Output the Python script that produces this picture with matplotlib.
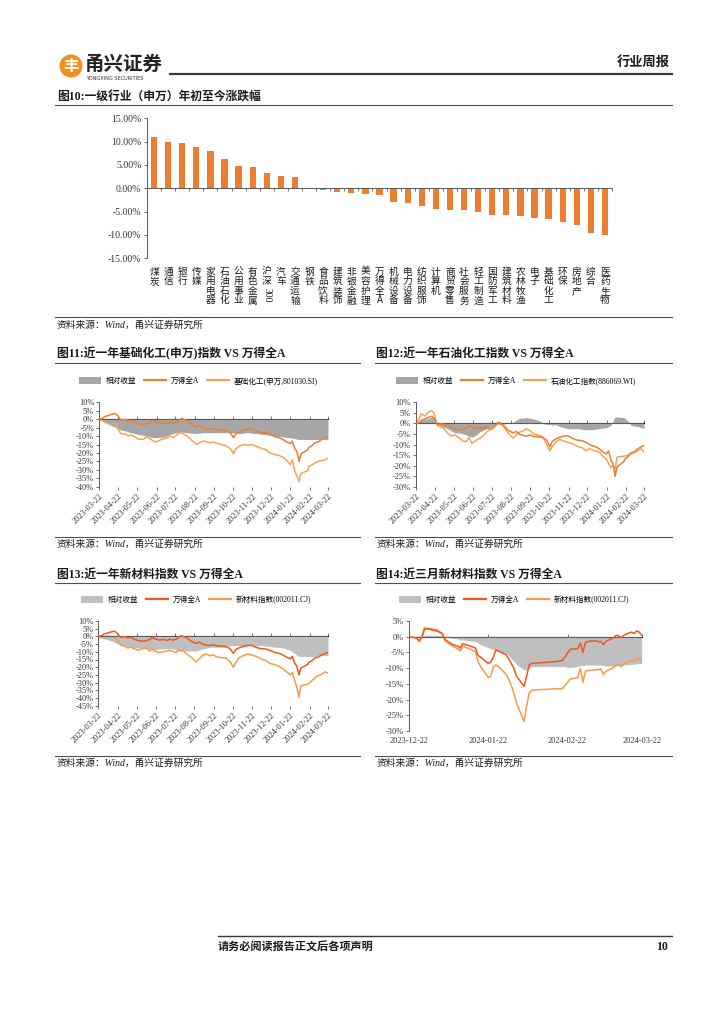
import matplotlib
matplotlib.use('Agg')
import matplotlib.pyplot as plt
import matplotlib.dates as mdates
import matplotlib.transforms as mtransforms
from matplotlib.lines import Line2D
from matplotlib.patches import Patch, Ellipse
import numpy as np
import pandas as pd

# ---------------- DATA ----------------
industries = ['煤炭', '通信', '银行', '传媒', '家用电器', '石油石化', '公用事业', '有色金属',
              '沪深300', '汽车', '交通运输', '钢铁', '食品饮料', '建筑装饰', '非银金融', '美容护理',
              '万得全A', '机械设备', '电力设备', '纺织服饰', '计算机', '商贸零售', '社会服务',
              '轻工制造', '国防军工', '建筑材料', '农林牧渔', '电子', '基础化工', '环保', '房地产',
              '综合', '医药生物']
ytd_change = [11.0, 9.85, 9.6, 8.9, 8.0, 6.25, 4.8, 4.6, 3.35, 2.6, 2.45, -0.2, -0.3, -0.85,
              -1.0, -1.2, -1.5, -3.0, -3.1, -3.9, -4.4, -4.7, -4.7, -5.1, -5.8, -5.8, -5.9,
              -6.4, -6.6, -7.3, -7.9, -9.6, -10.1]

dates_1y = ['2023-03-22', '2023-03-27', '2023-03-31', '2023-04-06', '2023-04-12', '2023-04-17',
            '2023-04-20', '2023-04-24', '2023-04-26', '2023-05-04', '2023-05-08', '2023-05-12',
            '2023-05-18', '2023-05-24', '2023-05-31', '2023-06-06', '2023-06-12', '2023-06-15',
            '2023-06-20', '2023-06-27', '2023-07-03', '2023-07-10', '2023-07-14', '2023-07-19',
            '2023-07-24', '2023-07-27', '2023-08-01', '2023-08-04', '2023-08-10', '2023-08-17',
            '2023-08-25', '2023-08-30', '2023-09-05', '2023-09-11', '2023-09-15', '2023-09-21',
            '2023-09-28', '2023-10-09', '2023-10-12', '2023-10-18', '2023-10-23', '2023-10-27',
            '2023-11-01', '2023-11-08', '2023-11-15', '2023-11-21', '2023-11-28', '2023-12-04',
            '2023-12-08', '2023-12-14', '2023-12-20', '2023-12-25', '2023-12-29', '2024-01-04',
            '2024-01-10', '2024-01-16', '2024-01-22', '2024-01-25', '2024-01-29', '2024-02-01',
            '2024-02-05', '2024-02-06', '2024-02-08', '2024-02-19', '2024-02-20', '2024-02-26',
            '2024-03-01', '2024-03-06', '2024-03-12', '2024-03-18', '2024-03-22']
wind_a_1y = [0, 0.3, 1.5, 2.2, 3.0, 3.3, 2.5, 0.5, -0.5, -0.2,
             -1.0, -0.6, -1.8, -2.6, -3.2, -2.8, -2.0, -0.8, -1.5, -2.4,
             -2.0, -2.6, -1.8, -2.5, -1.8, -1.0, 0.5, 0.0, -1.0, -3.2,
             -4.5, -3.8, -5.2, -5.8, -6.0, -5.5, -6.2, -6.5, -6.8, -8.0,
             -11.0, -8.5, -7.5, -6.5, -6.0, -5.8, -7.0, -7.8, -8.0, -8.2,
             -9.0, -9.8, -10.5, -11.0, -12.0, -13.5, -14.5, -13.0, -17.5, -19.0,
             -25.0, -23.0, -20.5, -18.0, -17.0, -15.5, -14.0, -13.5, -12.0, -11.0, -10.5]
basic_chem_1y = [0, -0.8, -1.5, -2.5, -3.0, -2.2, -5.0, -7.5, -8.5, -9.0,
                 -10.0, -9.2, -10.5, -11.8, -12.0, -10.5, -11.5, -12.5, -13.5, -12.5,
                 -11.5, -11.0, -10.0, -10.8, -9.5, -8.5, -8.0, -8.8, -10.0, -12.5,
                 -15.0, -13.8, -13.0, -13.5, -14.0, -13.5, -14.5, -15.5, -16.0, -17.5,
                 -20.5, -17.5, -16.0, -15.0, -15.5, -15.0, -16.0, -17.0, -17.5, -18.0,
                 -20.0, -20.5, -21.0, -21.5, -22.5, -24.5, -27.0, -24.0, -31.0, -33.5,
                 -37.0, -34.0, -32.0, -30.5, -28.0, -27.0, -26.0, -25.0, -24.5, -24.0, -23.0]
rel_basic_chem_1y = [0, -0.9, -1.8, -3.0, -4.0, -4.8, -5.5, -6.0, -6.5, -7.0,
                     -7.5, -8.0, -8.5, -9.0, -9.5, -10.0, -10.5, -10.8, -11.0, -10.8,
                     -10.5, -9.8, -9.0, -8.5, -8.0, -7.8, -7.5, -7.8, -8.0, -8.3,
                     -8.5, -8.3, -8.0, -8.0, -8.0, -8.0, -8.0, -8.0, -8.0, -8.2,
                     -8.0, -8.2, -8.5, -8.2, -8.0, -8.2, -8.5, -8.8, -9.0, -9.2,
                     -9.5, -9.8, -10.0, -10.2, -10.5, -10.8, -11.0, -11.2, -11.5, -11.8,
                     -12.0, -12.0, -12.0, -12.0, -12.0, -12.0, -12.0, -12.0, -12.0, -12.0, -12.0]
petro_chem_1y = [0, 2.0, 4.5, 3.5, 5.5, 6.0, 5.0, 1.0, -1.0, -2.0,
                 -3.0, -4.5, -6.0, -5.5, -7.0, -8.5, -8.5, -6.5, -9.5, -8.0,
                 -7.0, -5.5, -4.0, -3.0, -2.5, -1.5, 0.0, 0.5, -1.5, -4.5,
                 -7.0, -5.5, -4.0, -3.5, -2.5, -3.5, -5.0, -6.0, -6.5, -10.0,
                 -13.0, -11.0, -9.0, -7.5, -8.5, -9.0, -9.5, -10.5, -11.0, -11.5,
                 -13.0, -12.0, -12.5, -13.0, -13.5, -15.5, -17.0, -19.0, -21.0, -20.0,
                 -21.5, -19.0, -16.0, -15.5, -15.5, -15.0, -14.5, -14.0, -13.0, -12.0, -13.5]
rel_petro_chem_1y = [0, 1.2, 2.0, 2.0, 2.5, 3.0, 2.5, 1.0, -0.5, -1.5,
                     -2.0, -2.5, -3.5, -4.5, -4.5, -5.0, -5.5, -6.0, -6.5, -5.5,
                     -4.0, -3.0, -2.5, -1.5, -1.0, -0.5, -0.3, -0.5, -0.3, 0.0,
                     0.5, 1.5, 2.5, 2.5, 2.8, 2.5, 2.0, 1.0, 0.0, -0.5,
                     -0.5, -0.8, -0.5, -1.5, -2.0, -2.5, -2.5, -2.5, -2.5, -2.8,
                     -3.0, -3.0, -3.0, -2.8, -2.5, -2.2, -2.0, -1.5, -1.0, 1.0,
                     3.0, 3.2, 3.0, 2.8, 2.5, 1.0, -1.0, -1.2, -1.5, -2.0, -2.5]
new_mat_1y = [0, -1.0, -0.5, 0.5, -0.5, -0.8, -2.0, -4.0, -5.5, -6.5,
              -7.5, -7.0, -8.0, -9.0, -8.0, -7.5, -9.5, -8.0, -9.5, -10.5,
              -10.0, -9.5, -9.0, -9.8, -10.5, -9.0, -9.5, -9.0, -11.5, -13.5,
              -16.5, -14.5, -12.0, -11.5, -12.5, -12.0, -13.5, -14.0, -14.0, -16.5,
              -20.0, -17.0, -14.0, -12.5, -11.5, -12.0, -13.0, -14.0, -15.0, -15.5,
              -17.5, -18.0, -18.5, -19.5, -21.0, -23.0, -25.0, -23.5, -29.0, -32.5,
              -39.5, -36.0, -32.0, -31.0, -30.5, -28.5, -27.0, -25.5, -24.5, -23.0, -24.0]
rel_new_mat_1y = [0, -0.8, -1.5, -2.2, -3.0, -3.8, -4.5, -5.0, -5.5, -6.2,
                  -7.0, -7.2, -7.5, -7.5, -7.5, -7.8, -8.0, -8.2, -8.5, -8.2,
                  -8.0, -8.0, -8.0, -8.2, -8.5, -8.8, -9.0, -9.2, -9.5, -9.5,
                  -9.5, -8.8, -8.0, -7.5, -7.0, -7.0, -7.0, -6.8, -6.5, -6.2,
                  -6.0, -6.0, -6.0, -6.0, -6.0, -6.0, -6.0, -6.0, -6.0, -6.2,
                  -6.5, -6.8, -7.0, -7.2, -7.5, -8.2, -9.0, -10.0, -11.0, -12.0,
                  -13.0, -13.0, -13.0, -13.0, -13.0, -13.0, -13.0, -12.8, -12.5, -12.5, -12.5]
ticks_1y = ['2023-03-22', '2023-04-22', '2023-05-22', '2023-06-22', '2023-07-22', '2023-08-22',
            '2023-09-22', '2023-10-22', '2023-11-22', '2023-12-22', '2024-01-22', '2024-02-22',
            '2024-03-22']

dates_3m = ['2023-12-22', '2023-12-25', '2023-12-26', '2023-12-27', '2023-12-28', '2023-12-29',
            '2024-01-02', '2024-01-04', '2024-01-05', '2024-01-08', '2024-01-10', '2024-01-11',
            '2024-01-12', '2024-01-15', '2024-01-17', '2024-01-18', '2024-01-19', '2024-01-22',
            '2024-01-23', '2024-01-24', '2024-01-25', '2024-01-26', '2024-01-29', '2024-01-30',
            '2024-01-31', '2024-02-01', '2024-02-02', '2024-02-05', '2024-02-06', '2024-02-07',
            '2024-02-08', '2024-02-19', '2024-02-20', '2024-02-21', '2024-02-22', '2024-02-23',
            '2024-02-26', '2024-02-27', '2024-02-28', '2024-02-29', '2024-03-01', '2024-03-04',
            '2024-03-05', '2024-03-06', '2024-03-07', '2024-03-08', '2024-03-11', '2024-03-12',
            '2024-03-13', '2024-03-14', '2024-03-15', '2024-03-18', '2024-03-19', '2024-03-20',
            '2024-03-21', '2024-03-22']
wind_a_3m = [0.0, -0.4, -1.3, -0.2, 2.3, 2.5, 1.8, 1.0, -0.8, -2.5, -3.0, -3.6, -2.2, -3.0, -3.6,
             -6.0, -6.5, -8.5, -8.0, -6.5, -4.2, -4.5, -5.8, -7.0, -8.5, -10.0, -12.5, -15.8,
             -12.5, -9.0, -8.5, -7.8, -7.5, -6.5, -5.2, -4.0, -3.8, -2.0, -5.0, -1.8, -1.5, -1.3,
             -1.6, -1.5, -2.5, -1.5, -0.3, 0.5, 0.3, -0.3, 0.5, 1.5, 1.0, 1.8, 1.5, 0.5]
new_mat_3m = [0.0, -0.4, -1.5, 0.0, 2.8, 2.8, 2.2, 1.0, -1.2, -3.0, -3.8, -4.6, -3.0, -4.0, -4.8,
              -8.0, -9.5, -13.0, -12.5, -9.5, -9.0, -9.5, -12.0, -13.5, -15.5, -18.0, -21.0, -27.0,
              -22.0, -18.0, -17.0, -16.5, -16.5, -15.5, -14.5, -13.5, -13.0, -10.0, -14.5, -11.0,
              -10.8, -10.5, -10.5, -10.2, -12.0, -11.0, -9.8, -9.0, -8.8, -9.5, -8.5, -7.5, -7.8,
              -6.8, -7.0, -8.0]
rel_new_mat_3m = [0.0, 0.2, 0.2, 0.3, 0.5, 0.5, 0.5, 0.3, 0.0, -0.5, -0.7, -1.0, -1.0, -1.3, -1.5,
                  -2.0, -2.5, -3.5, -3.8, -4.0, -4.5, -4.8, -5.5, -6.0, -7.0, -7.8, -8.8, -10.5,
                  -10.5, -10.0, -9.5, -9.5, -9.5, -9.5, -9.8, -9.8, -9.5, -9.0, -9.3, -9.0, -9.0,
                  -9.0, -9.0, -9.0, -9.2, -9.3, -9.3, -9.3, -9.2, -9.2, -9.0, -8.8, -8.8, -8.6,
                  -8.6, -8.5]
ticks_3m = ['2023-12-22', '2024-01-22', '2024-02-22', '2024-03-22']

# ---------------- LAYOUT HELPERS ----------------
W, H = 724, 1024
MIX = ['Liberation Serif', 'Noto Sans CJK SC']
SANS = ['Noto Sans CJK SC', 'DejaVu Sans']
plt.rcParams['font.family'] = MIX
plt.rcParams['axes.unicode_minus'] = False

fig = plt.figure(figsize=(W / 100, H / 100), dpi=100)


def fx(x):
    return x / W


def fy(y):
    return 1 - y / H


def axes_px(l, t, r, b):
    return fig.add_axes([fx(l), fy(b), (r - l) / W, (b - t) / H])


def hline(x0, x1, y, lw=0.8, color='#505050'):
    fig.add_artist(Line2D([fx(x0), fx(x1)], [fy(y), fy(y)], transform=fig.transFigure,
                          lw=lw, color=color))


def ftext(x, y, s, **kw):
    kw.setdefault('va', 'center')
    fig.text(fx(x), fy(y), s, **kw)


TXT = '#1a1a1a'
AX = '#595959'

# ---------------- HEADER ----------------
fig.add_artist(Ellipse((fx(71), fy(66)), 23 / W, 23 / H, transform=fig.transFigure,
                       color='#F0901E', lw=0))
ftext(71, 66.5, '丰', ha='center', fontsize=11, fontweight='bold', color='white', family=SANS)
ftext(85, 64, '甬兴证券', fontsize=14, fontweight='bold', family=SANS, color='#222222')
ftext(86, 78, 'YONGXING SECURITIES', fontsize=3.6, family='DejaVu Sans', color='#333333')
hline(170, 672, 73.5, lw=1.6, color='#3a3a3a')
ftext(670, 62, '行业周报', ha='right', fontsize=9.5, fontweight='bold', family=SANS, color=TXT)

# ---------------- CHART 10 ----------------
ftext(57, 97, '图10:一级行业（申万）年初至今涨跌幅', fontsize=8.5, fontweight='bold', color=TXT)
hline(55, 672, 104.5)

ax1 = axes_px(147, 118.3, 612, 258.3)
n = len(industries)
ax1.bar(np.arange(n), ytd_change, width=0.45, color='#ED7D31', zorder=2)
ax1.set_xlim(-0.5, n - 0.5)
ax1.set_ylim(-15, 15)
yt = np.arange(-15, 16, 5)
ax1.set_yticks(yt)
ax1.set_yticklabels([f'{v:.2f}%' for v in yt], fontsize=7, color='#333333')
ax1.set_xticks(np.arange(-0.5, n, 1))
ax1.tick_params(axis='x', labelbottom=False, length=2, direction='out', color=AX, width=0.6)
ax1.tick_params(axis='y', length=2, direction='out', color=AX, width=0.6, pad=2)
for s in ['top', 'right']:
    ax1.spines[s].set_visible(False)
ax1.spines['bottom'].set_position(('data', 0))
ax1.spines['bottom'].set_color(AX)
ax1.spines['left'].set_color(AX)
ax1.spines['bottom'].set_linewidth(0.7)
ax1.spines['left'].set_linewidth(0.7)
ax1.patch.set_alpha(0)
trans = mtransforms.blended_transform_factory(ax1.transData, ax1.transAxes)
for i, name in enumerate(industries):
    if name == '沪深300':
        ax1.text(i, -0.06, '沪\n深', transform=trans, ha='center', va='top', fontsize=7,
                 family=SANS, linespacing=0.95, color=TXT)
        ax1.text(i, -0.215, '300', transform=trans, ha='center', va='top', fontsize=7,
                 rotation=270, color=TXT)
    else:
        ax1.text(i, -0.06, '\n'.join(list(name)), transform=trans, ha='center', va='top',
                 fontsize=7, family=SANS, linespacing=0.95, color=TXT)

hline(55, 672, 316.5)
ftext(57, 325, '资料来源：Wind，甬兴证券研究所', fontsize=7, style='italic', color=TXT)


# ---------------- LINE CHARTS ----------------
def line_chart(box, dates, rel, wind, idx, ylo, yhi, gray, c_wind, c_idx, ticks, rotate):
    ax = axes_px(*box)
    d = pd.to_datetime(dates)
    ax.fill_between(d, 0, rel, color=gray, lw=0, zorder=1)
    ax.plot(d, wind, color=c_wind, lw=1.1, zorder=3)
    ax.plot(d, idx, color=c_idx, lw=1.1, zorder=2)
    ax.axhline(0, color=AX, lw=0.7, zorder=2.5)
    ax.set_ylim(ylo, yhi)
    ax.set_xlim(pd.Timestamp(ticks[0]), pd.Timestamp(ticks[-1]))
    yt = np.arange(ylo, yhi + 1, 5)
    ax.set_yticks(yt)
    ax.set_yticklabels([f'{v}%' for v in yt], fontsize=6, color='#333333')
    tk = pd.to_datetime(ticks)
    ax.set_xticks(tk)
    if rotate:
        ax.set_xticklabels(ticks, rotation=45, ha='right', rotation_mode='anchor',
                           fontsize=6, color='#333333')
        ax.tick_params(axis='x', length=2, pad=2, color=AX, width=0.6)
    else:
        ax.set_xticklabels(ticks, fontsize=6, color='#333333')
        ax.tick_params(axis='x', length=0, pad=4)
    ax.tick_params(axis='y', length=2, pad=1.5, color=AX, width=0.6)
    for s in ['top', 'right', 'bottom']:
        ax.spines[s].set_visible(False)
    ax.spines['left'].set_color(AX)
    ax.spines['left'].set_linewidth(0.7)
    frac = (0 - ylo) / (yhi - ylo)
    sec = ax.secondary_xaxis(frac)
    sec.set_xticks(mdates.date2num(tk))
    sec.set_xticklabels([])
    sec.tick_params(axis='x', length=2, color=AX, width=0.6)
    sec.spines['bottom'].set_visible(False)
    ax.patch.set_alpha(0)
    return ax


def legend(x, y, gray, c_wind, c_idx, idx_label):
    handles = [Patch(facecolor=gray, edgecolor='none'),
               Line2D([], [], color=c_wind, lw=1.6),
               Line2D([], [], color=c_idx, lw=1.6)]
    labels = ['相对收益', '万得全A', idx_label]
    fig.legend(handles, labels, loc='center left', bbox_to_anchor=(fx(x), fy(y)), ncol=3,
               frameon=False, fontsize=5.5, handlelength=2.9, handleheight=0.9,
               columnspacing=1.0, handletextpad=0.6, borderaxespad=0, borderpad=0)


GRAY1 = '#A6A6A6'
GRAY2 = '#BFBFBF'
OR1 = '#ED7D31'
OR1L = '#F5A356'
OR2 = '#F4561A'
OR2L = '#F79A4A'

# Chart 11
ftext(57, 354, '图11:近一年基础化工(申万)指数 VS 万得全A', fontsize=8.5, fontweight='bold', color=TXT)
hline(55, 360, 363)
legend(79, 381, GRAY1, OR1, OR1L, '基础化工(申万,801030.SI)')
line_chart((99, 402.3, 328, 486.7), dates_1y, rel_basic_chem_1y, wind_a_1y, basic_chem_1y,
           -40, 10, GRAY1, OR1, OR1L, ticks_1y, True)
hline(55, 360, 537)
ftext(57, 544, '资料来源：Wind，甬兴证券研究所', fontsize=7, style='italic', color=TXT)

# Chart 12
ftext(376, 354, '图12:近一年石油化工指数 VS 万得全A', fontsize=8.5, fontweight='bold', color=TXT)
hline(375, 672, 363)
legend(396, 381, GRAY1, OR1, OR1L, '石油化工指数(886069.WI)')
line_chart((415.7, 402.3, 644, 486.7), dates_1y, rel_petro_chem_1y, wind_a_1y, petro_chem_1y,
           -30, 10, GRAY1, OR1, OR1L, ticks_1y, True)
hline(375, 672, 537)
ftext(377, 544, '资料来源：Wind，甬兴证券研究所', fontsize=7, style='italic', color=TXT)

# Chart 13
ftext(57, 575, '图13:近一年新材料指数 VS 万得全A', fontsize=8.5, fontweight='bold', color=TXT)
hline(55, 360, 583)
legend(81, 600, GRAY2, OR2, OR2L, '新材料指数(002011.CJ)')
line_chart((98.3, 621, 328, 705.7), dates_1y, rel_new_mat_1y, wind_a_1y, new_mat_1y,
           -45, 10, GRAY2, OR2, OR2L, ticks_1y, True)
hline(55, 360, 756)
ftext(57, 763, '资料来源：Wind，甬兴证券研究所', fontsize=7, style='italic', color=TXT)

# Chart 14
ftext(376, 575, '图14:近三月新材料指数 VS 万得全A', fontsize=8.5, fontweight='bold', color=TXT)
hline(375, 672, 583)
legend(399, 600, GRAY2, OR2, OR2L, '新材料指数(002011.CJ)')
line_chart((409, 621, 641.7, 731), dates_3m, rel_new_mat_3m, wind_a_3m, new_mat_3m,
           -30, 5, GRAY2, OR2, OR2L, ticks_3m, False)
hline(375, 672, 756)
ftext(377, 763, '资料来源：Wind，甬兴证券研究所', fontsize=7, style='italic', color=TXT)

# ---------------- FOOTER ----------------
hline(218, 672, 936, lw=1.0, color='#3a3a3a')
ftext(218, 947, '请务必阅读报告正文后各项声明', fontsize=8, fontweight='bold', color=TXT)
ftext(668, 947, '10', ha='right', fontsize=8.5, fontweight='bold', color=TXT)

fig.savefig('out.png', dpi=100)
